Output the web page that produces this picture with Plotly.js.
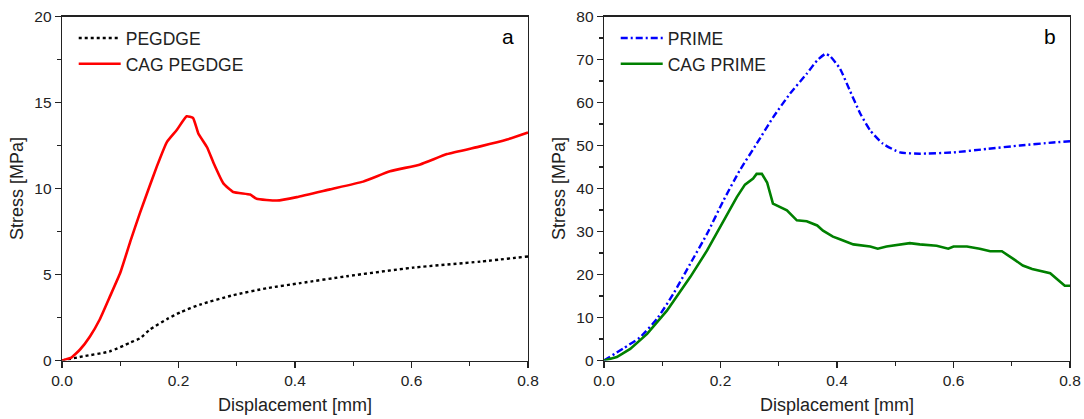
<!DOCTYPE html>
<html><head><meta charset="utf-8">
<script src="https://cdn.plot.ly/plotly-3.0.1.min.js"></script>
<style>html,body{margin:0;padding:0;background:#fff}#chart{width:1084px;height:419px}</style>
</head><body><div id="chart"></div>
<script>
// Panel a
const pegdgeX = [0, 0.036, 0.082, 0.117, 0.134, 0.151, 0.18, 0.203, 0.237, 0.294, 0.351, 0.409, 0.489, 0.603, 0.718, 0.8];
const pegdgeY = [0, 0.24, 0.53, 1.04, 1.3, 1.8, 2.4, 2.8, 3.25, 3.8, 4.2, 4.5, 4.9, 5.4, 5.75, 6.05];
const cagPegdgeX = [0, 0.015, 0.031, 0.048, 0.065, 0.082, 0.1, 0.118, 0.134, 0.15, 0.163, 0.18, 0.197, 0.214, 0.225, 0.234, 0.249, 0.26, 0.277, 0.294, 0.323, 0.334, 0.369, 0.403, 0.46, 0.517, 0.563, 0.615, 0.661, 0.718, 0.764, 0.8];
const cagPegdgeY = [0, 0.15, 0.64, 1.4, 2.4, 3.7, 5.1, 7.0, 8.6, 10.1, 11.3, 12.7, 13.4, 14.2, 14.1, 13.2, 12.4, 11.5, 10.3, 9.8, 9.65, 9.4, 9.3, 9.5, 9.95, 10.4, 11.0, 11.4, 12.0, 12.45, 12.85, 13.26];
// Panel b
const primeX = [0, 0.033, 0.062, 0.091, 0.119, 0.148, 0.177, 0.205, 0.233, 0.262, 0.29, 0.319, 0.348, 0.366, 0.38, 0.388, 0.405, 0.422, 0.44, 0.457, 0.479, 0.508, 0.542, 0.6, 0.657, 0.714, 0.771, 0.8];
const primeY = [0, 2.8, 5.4, 9.7, 15.5, 22.5, 29.5, 37.2, 44.2, 50.4, 56.5, 62, 66.7, 69.8, 71.3, 70.8, 67.9, 62.8, 57.4, 53.5, 50.4, 48.4, 48.1, 48.4, 49.2, 50, 50.7, 51];
const cagPrimeX = [0, 0.022, 0.045, 0.074, 0.108, 0.148, 0.177, 0.205, 0.228, 0.242, 0.256, 0.262, 0.271, 0.28, 0.29, 0.314, 0.331, 0.348, 0.366, 0.376, 0.393, 0.405, 0.428, 0.457, 0.47, 0.485, 0.508, 0.525, 0.542, 0.571, 0.591, 0.6, 0.623, 0.645, 0.663, 0.683, 0.702, 0.719, 0.735, 0.749, 0.766, 0.777, 0.791, 0.8];
const cagPrimeY = [0, 0.8, 2.7, 6.2, 11.6, 19.4, 25.6, 32.6, 38, 40.9, 42.3, 43.4, 43.4, 41.4, 36.5, 34.9, 32.6, 32.4, 31.4, 30.2, 28.8, 28.2, 27, 26.5, 26, 26.5, 27, 27.3, 27, 26.7, 26, 26.5, 26.5, 26, 25.4, 25.4, 23.7, 22.1, 21.3, 20.9, 20.3, 19, 17.4, 17.4];

const xTicks = [0, 0.2, 0.4, 0.6, 0.8];
const xTickText = ['0.0', '0.2', '0.4', '0.6', '0.8'];

const FONT = 'Liberation Sans, Arial, sans-serif';
const traces = [
  {x: pegdgeX, y: pegdgeY, name: 'PEGDGE', mode: 'lines', line: {color: '#000', width: 2.4, dash: 'dot', shape: 'spline', smoothing: 0.6}, xaxis: 'x', yaxis: 'y', legend: 'legend'},
  {x: cagPegdgeX, y: cagPegdgeY, name: 'CAG PEGDGE', mode: 'lines', line: {color: '#ff0000', width: 2.6, shape: 'spline', smoothing: 0.4}, xaxis: 'x', yaxis: 'y', legend: 'legend'},
  {x: primeX, y: primeY, name: 'PRIME', mode: 'lines', line: {color: '#0000ff', width: 2.4, dash: '7px,3px,2px,3px', shape: 'spline', smoothing: 0.5}, xaxis: 'x2', yaxis: 'y2', legend: 'legend2'},
  {x: cagPrimeX, y: cagPrimeY, name: 'CAG PRIME', mode: 'lines', line: {color: '#008000', width: 2.6}, xaxis: 'x2', yaxis: 'y2', legend: 'legend2'}
];

function xax(domain, anchor) {
  return {domain: domain, anchor: anchor, range: [0, 0.8], tickvals: xTicks, ticktext: xTickText,
    ticks: 'outside', ticklen: 6, tickwidth: 1.3, tickcolor: '#222', showline: true, linecolor: '#222', linewidth: 1.3,
    mirror: true, showgrid: false, zeroline: false, tickfont: {family: FONT, size: 15.5, color: '#222'},
    minor: {dtick: 0.1, ticks: 'outside', ticklen: 4, tickcolor: '#222', tickwidth: 1.3},
    title: {text: 'Displacement [mm]', font: {family: FONT, size: 18, color: '#222'}, standoff: 10}};
}
function yax(domain, anchor, range, dtick, mdtick) {
  return {domain: domain, anchor: anchor, range: range, dtick: dtick, tick0: 0,
    ticks: 'outside', ticklen: 6, tickwidth: 1.3, tickcolor: '#222', showline: true, linecolor: '#222', linewidth: 1.3,
    mirror: true, showgrid: false, zeroline: false, tickfont: {family: FONT, size: 15.5, color: '#222'},
    minor: {dtick: mdtick, ticks: 'outside', ticklen: 4, tickcolor: '#222', tickwidth: 1.3},
    title: {text: 'Stress [MPa]', font: {family: FONT, size: 18, color: '#222'}, standoff: 6}};
}
const yd = [0.1396, 0.9606];
const layout = {
  width: 1084, height: 419, margin: {l: 0, r: 0, t: 0, b: 0},
  paper_bgcolor: '#fff', plot_bgcolor: '#fff', font: {family: FONT, color: '#222'},
  xaxis: xax([0.0572, 0.4871], 'y'),
  yaxis: yax(yd, 'x', [0, 20], 5, 2.5),
  xaxis2: xax([0.5572, 0.9871], 'y2'),
  yaxis2: yax(yd, 'x2', [0, 80], 10, 5),
  legend: {x: 0.068, y: 0.952, xanchor: 'left', yanchor: 'top', bgcolor: 'rgba(0,0,0,0)', font: {family: FONT, size: 17.5, color: '#222'}, tracegroupgap: 0, itemwidth: 42},
  legend2: {x: 0.568, y: 0.952, xanchor: 'left', yanchor: 'top', bgcolor: 'rgba(0,0,0,0)', font: {family: FONT, size: 17.5, color: '#222'}, tracegroupgap: 0, itemwidth: 42},
  annotations: [
    {text: 'a', xref: 'paper', yref: 'paper', x: 0.476, y: 0.945, xanchor: 'right', yanchor: 'top', showarrow: false, font: {family: FONT, size: 21, color: '#000'}},
    {text: 'b', xref: 'paper', yref: 'paper', x: 0.976, y: 0.945, xanchor: 'right', yanchor: 'top', showarrow: false, font: {family: FONT, size: 21, color: '#000'}}
  ]
};
Plotly.newPlot('chart', traces, layout, {displayModeBar: false, staticPlot: true});
</script></body></html>
